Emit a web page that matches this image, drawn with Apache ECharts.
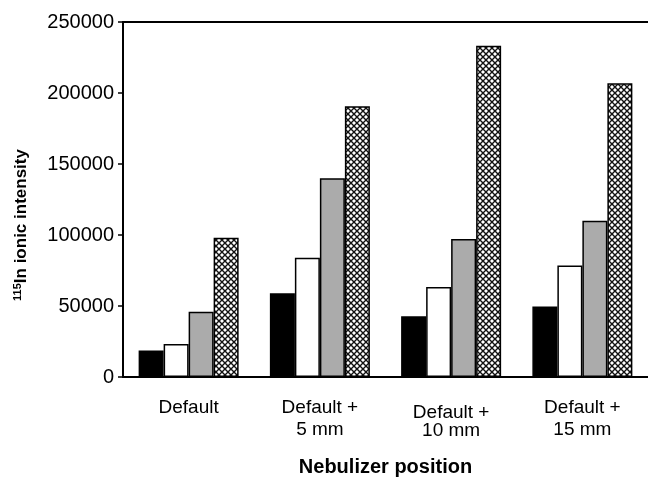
<!DOCTYPE html>
<html>
<head>
<meta charset="utf-8">
<script src="https://cdn.jsdelivr.net/npm/echarts@6/dist/echarts.min.js"></script>
<style>html,body{margin:0;padding:0;background:#fff;overflow:hidden;}#c{width:648px;height:482px;}</style>
</head>
<body>
<div id="c"></div>
<script>
var categories = ['Default', 'Default +\n5 mm', 'Default +\n10 mm', 'Default +\n15 mm'];
var seriesBlack = [18700, 59000, 42800, 49700];
var seriesWhite = [23200, 84000, 63400, 78500];
var seriesGray = [46000, 140000, 97200, 110000];
var seriesHatched = [98000, 190700, 233300, 206800];
var yTicks = [0, 50000, 100000, 150000, 200000, 250000];

function hatchTile() {
  var c = document.createElement('canvas');
  c.width = 6; c.height = 6;
  var g = c.getContext('2d');
  g.fillStyle = '#fff';
  g.fillRect(0, 0, 6, 6);
  g.strokeStyle = '#111';
  g.lineWidth = 1.4;
  g.beginPath();
  g.moveTo(-1, -1); g.lineTo(7, 7);
  g.moveTo(7, -1); g.lineTo(-1, 7);
  g.stroke();
  return c;
}

var font = 'Liberation Sans, Arial, Helvetica, sans-serif';
var chart = echarts.init(document.getElementById('c'), null, {renderer: 'canvas'});
var borderW = 1.5;
function mkSeries(name, data, color) {
  return {
    name: name, type: 'bar', data: data, barWidth: 25, barGap: '0%',
    itemStyle: {color: color, borderColor: '#000', borderWidth: borderW},
    animation: false
  };
}
chart.setOption({
  animation: false,
  grid: {left: 123, top: 22, width: 536, height: 358},
  xAxis: [{
    type: 'category', data: categories, position: 'bottom',
    axisLine: {onZero: false, lineStyle: {color: '#000', width: 2}},
    axisTick: {show: false},
    axisLabel: {
      color: '#000', fontFamily: font, fontSize: 19, margin: 20, interval: 0,
      lineHeight: 22,
      formatter: function (v, i) {
        if (i === 2) return '{a|Default +}\n{b|10 mm}';
        return v;
      },
      rich: {
        a: {fontFamily: font, fontSize: 19, color: '#000', lineHeight: 32},
        b: {fontFamily: font, fontSize: 19, color: '#000', lineHeight: 4}
      }
    },
    name: 'Nebulizer position', nameLocation: 'middle', nameGap: 80,
    nameTextStyle: {color: '#000', fontFamily: font, fontSize: 20, fontWeight: 'bold'}
  }, {
    type: 'category', data: categories, position: 'top',
    axisLine: {onZero: false, lineStyle: {color: '#000', width: 2}},
    axisTick: {show: false}, axisLabel: {show: false}
  }],
  yAxis: {
    type: 'value', min: 0, max: 250000, interval: 50000,
    axisLine: {show: true, onZero: false, lineStyle: {color: '#000', width: 2}},
    axisTick: {show: true, length: 5, lineStyle: {color: '#000', width: 1.5}},
    splitLine: {show: false},
    axisLabel: {
      color: '#000', fontFamily: font, fontSize: 20, margin: 9,
      formatter: function (v) { return yTicks.indexOf(v) >= 0 ? String(v) : ''; }
    }
  },
  graphic: [{
    type: 'text', x: 21, y: 225, rotation: Math.PI / 2,
    style: {
      text: '{s|115}{m|In ionic intensity}',
      align: 'center', verticalAlign: 'middle',
      rich: {
        s: {fontFamily: font, fontSize: 11, fontWeight: 'bold', fill: '#000', verticalAlign: 'top', lineHeight: 18},
        m: {fontFamily: font, fontSize: 17, fontWeight: 'bold', fill: '#000', lineHeight: 18}
      }
    }
  }],
  series: [
    mkSeries('black', seriesBlack, '#000'),
    mkSeries('white', seriesWhite, '#fff'),
    mkSeries('gray', seriesGray, '#ababab'),
    mkSeries('hatched', seriesHatched, {image: hatchTile(), repeat: 'repeat'})
  ]
});
</script>
</body>
</html>
